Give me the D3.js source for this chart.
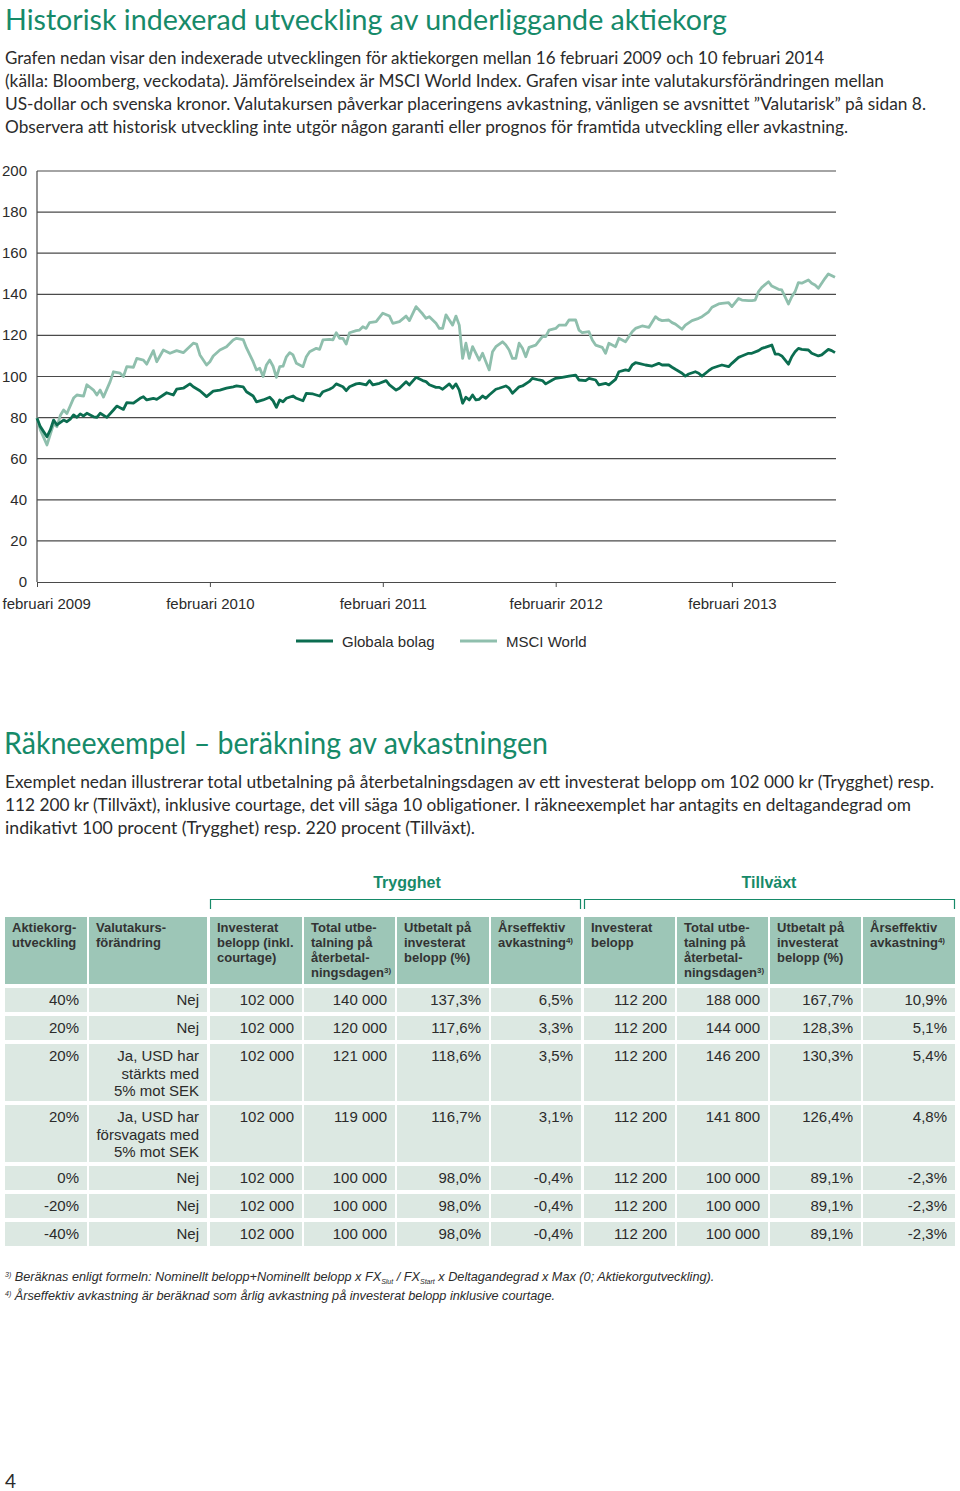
<!DOCTYPE html>
<html><head><meta charset="utf-8">
<script src="https://cdn.jsdelivr.net/npm/d3@7"></script>
<style>body{margin:0;background:#fff;} svg{display:block;}</style>
</head><body><svg id="c" width="960" height="1491"></svg>
<script>
// ---------- DATA ----------
// [week since 16 Feb 2009, index value]
const msciWorld = [[0,80],[1,74],[3,66.7],[5,77],[6,75.6],[7,81],[8,83.7],[9,82],[11,89.5],[12,91],[14,90.5],[15,96],[17,93.4],[18,91],[19,93.4],[20,90],[22,97.5],[23,102.3],[25,101.6],[26,100],[27,104.8],[29,104.5],[30,108.8],[32,108],[33,106],[35,112.6],[36,107.2],[38,112.9],[40,111.3],[42,112.6],[44,111.6],[47,116.2],[48,115.8],[49,110.5],[51,105.6],[52,107.2],[53,110],[55,112.9],[57,114.5],[59,117.8],[60,118.6],[62,118],[63,113.9],[65,107.2],[66,103.2],[67,104],[68,100],[69,105.6],[70,108],[71,105],[72,99.6],[73,104.8],[74,105],[75,109.6],[76,111.6],[77,110.5],[78,106.4],[80,104.8],[81,109.6],[82,112],[84,113.7],[85,113.2],[86,117.8],[88,118.1],[89,117.8],[90,121.3],[91,118.6],[92,118.6],[93,115.8],[94,121.3],[96,122.3],[97,122.6],[98,124.2],[99,123.4],[100,126.2],[102,126.7],[103,128.8],[104,130.8],[106,129.4],[107,125.9],[109,126.7],[111,129.4],[112,127.2],[114,134],[116,130.4],[117,128.3],[118,129.1],[120,125.9],[121,123.4],[122,123.4],[123,130],[124,127.5],[125,125],[126,129.4],[127,125],[128,108.8],[129,116.2],[130,108.8],[131,114.5],[132,111.3],[133,108],[134,111.3],[135,107.2],[136,103.2],[137,112],[138,114.5],[140,116.9],[141,115.3],[142,112.9],[143,108.8],[144,108.8],[145,116.2],[146,113.7],[147,109.6],[148,114.2],[150,115.3],[152,119.4],[153,119.4],[154,122.6],[156,123.4],[157,125],[159,125],[160,127.5],[162,127.5],[163,122.6],[164,121.3],[166,121.8],[167,117.8],[168,115.3],[170,114.2],[171,111.3],[172,116.2],[174,114.5],[175,118.6],[176,117.8],[177,116.9],[179,121.8],[180,123.4],[182,124.6],[184,123.9],[186,129.1],[187,127.8],[188,127.2],[190,127.5],[191,126.2],[192,125.5],[194,123],[195,125],[197,127.2],[199,128.3],[200,129.1],[202,131.5],[203,133.7],[205,135.3],[206,135.6],[208,135.9],[209,134],[211,138],[212,137.2],[214,136.9],[215,136.9],[216,137.2],[217,141.3],[218,143.4],[220,146.1],[221,144],[223,142.4],[224,142.1],[226,135.3],[227,138.8],[228,141.3],[229,145.7],[230,145.4],[232,147],[233,145.4],[234,144.5],[235,142.9],[237,147.8],[238,149.9],[240,148.3]];
const globalaBolag = [[0,79.7],[1,75.6],[3,70.7],[4,74],[5,78.8],[6,76.4],[8,78.8],[9,78],[10,79.2],[11,81.3],[12,80.1],[13,81.8],[14,80.8],[15,82.1],[17,80.4],[18,80.1],[19,82.1],[21,80.1],[23,83.7],[24,85.6],[26,84],[27,87.3],[29,87],[31,89.4],[32,90.2],[33,88.6],[35,89.4],[36,88.9],[38,91],[39,92.1],[41,91],[42,93.8],[44,94.3],[46,96.4],[47,95],[49,93.1],[51,90.2],[53,92.9],[55,93.4],[57,94.3],[59,95],[60,95.4],[62,95],[63,92.6],[65,90.5],[66,87.7],[68,88.6],[70,89.9],[71,88.2],[72,85],[73,88.6],[74,87.7],[75,89.4],[77,90.5],[78,89.4],[80,88.2],[81,91.8],[83,91.5],[85,90.5],[86,92.6],[88,93.8],[89,94.7],[90,96.4],[92,95],[93,93.1],[94,95],[96,96.4],[97,96.7],[99,95.9],[100,98],[101,95.9],[103,96.7],[105,98],[106,95.9],[108,93.4],[109,94.3],[111,97.5],[112,95.9],[114,99.6],[116,98],[117,97.5],[118,96],[120,94.7],[121,94.7],[122,93.8],[124,96.4],[125,94.3],[126,96.4],[127,93.4],[128,87],[129,89.9],[130,88.6],[131,91],[132,88.6],[133,88.9],[134,90.5],[135,89.4],[136,91],[138,93.8],[139,94.3],[141,95.4],[142,94.3],[143,91.8],[145,95],[146,95.4],[148,97.5],[149,99.1],[151,98.3],[152,98],[153,96.4],[155,98.3],[156,99.1],[158,99.6],[160,100.2],[162,100.7],[163,98.3],[165,98],[166,99.1],[168,98.3],[169,95.9],[171,96.7],[172,95.9],[174,98.6],[175,102.3],[177,103.2],[178,102.9],[179,105.6],[180,106.7],[181,106.4],[183,105.6],[185,105.1],[187,106.4],[188,105.6],[190,105.6],[191,104.5],[192,103.5],[194,101.6],[195,100.2],[196,101.2],[198,102.3],[199,101.6],[200,100.2],[202,102.8],[203,104],[205,105.1],[206,105.6],[208,104.8],[209,106.4],[211,109.3],[212,110],[214,111.3],[215,111.3],[217,112.6],[218,113.7],[219,114.2],[221,115.3],[222,110.9],[223,110.9],[224,110],[226,106],[227,109.6],[228,112],[229,113.7],[230,113.2],[232,112.9],[233,111.3],[235,110],[236,110.5],[238,113.2],[239,112.6],[240,111.6]];
const seriesNames = ["Globala bolag", "MSCI World"];
const yTicks = [0, 20, 40, 60, 80, 100, 120, 140, 160, 180, 200];
const xTickWeeks = [0, 52, 104, 156, 209];
const xTickLabels = ["februari 2009", "februari 2010", "februari 2011", "februarir 2012", "februari 2013"];

const title1 = "Historisk indexerad utveckling av underliggande aktiekorg";
const intro1 = [
  "Grafen nedan visar den indexerade utvecklingen för aktiekorgen mellan 16 februari 2009 och 10 februari 2014",
  "(källa: Bloomberg, veckodata). Jämförelseindex är MSCI World Index. Grafen visar inte valutakursförändringen mellan",
  "US-dollar och svenska kronor. Valutakursen påverkar placeringens avkastning, vänligen se avsnittet ”Valutarisk” på sidan 8.",
  "Observera att historisk utveckling inte utgör någon garanti eller prognos för framtida utveckling eller avkastning."
];
const title2 = "Räkneexempel – beräkning av avkastningen";
const intro2 = [
  "Exemplet nedan illustrerar total utbetalning på återbetalningsdagen av ett investerat belopp om 102 000 kr (Trygghet) resp.",
  "112 200 kr (Tillväxt), inklusive courtage, det vill säga 10 obligationer. I räkneexemplet har antagits en deltagandegrad om",
  "indikativt 100 procent (Trygghet) resp. 220 procent (Tillväxt)."
];

const groupNames = ["Trygghet", "Tillväxt"];
const headers = [
  [["Aktiekorg-", "utveckling"]],
  [["Valutakurs-", "förändring"]],
  [["Investerat", "belopp (inkl.", "courtage)"]],
  [["Total utbe-", "talning på", "återbetal-", "ningsdagen"], "3)"],
  [["Utbetalt på", "investerat", "belopp (%)"]],
  [["Årseffektiv", "avkastning"], "4)"],
  [["Investerat", "belopp"]],
  [["Total utbe-", "talning på", "återbetal-", "ningsdagen"], "3)"],
  [["Utbetalt på", "investerat", "belopp (%)"]],
  [["Årseffektiv", "avkastning"], "4)"]
];
const aktiekorg = ["40%", "20%", "20%", "20%", "0%", "-20%", "-40%"];
const valuta = [["Nej"], ["Nej"], ["Ja, USD har", "stärkts med", "5% mot SEK"], ["Ja, USD har", "försvagats med", "5% mot SEK"], ["Nej"], ["Nej"], ["Nej"]];
const tryggInvest = ["102 000", "102 000", "102 000", "102 000", "102 000", "102 000", "102 000"];
const tryggTotal = ["140 000", "120 000", "121 000", "119 000", "100 000", "100 000", "100 000"];
const tryggPct = ["137,3%", "117,6%", "118,6%", "116,7%", "98,0%", "98,0%", "98,0%"];
const tryggArs = ["6,5%", "3,3%", "3,5%", "3,1%", "-0,4%", "-0,4%", "-0,4%"];
const tillvInvest = ["112 200", "112 200", "112 200", "112 200", "112 200", "112 200", "112 200"];
const tillvTotal = ["188 000", "144 000", "146 200", "141 800", "100 000", "100 000", "100 000"];
const tillvPct = ["167,7%", "128,3%", "130,3%", "126,4%", "89,1%", "89,1%", "89,1%"];
const tillvArs = ["10,9%", "5,1%", "5,4%", "4,8%", "-2,3%", "-2,3%", "-2,3%"];

// ---------- STYLE ----------
const GREEN = "#168a69";
const DARK = "#0b6d50";
const LIGHT = "#8fbfad";
const TEXT = "#2b2b2b";
const BODY_FONT = "Lato, 'Open Sans', sans-serif";
const SANS = "'Liberation Sans', Arial, sans-serif";

const svg = d3.select("#c");

// ---------- HEADINGS ----------
svg.append("text").attr("x", 5).attr("y", 30)
  .attr("font-family", BODY_FONT).attr("font-size", 29).attr("fill", GREEN)
  .attr("textLength", 722).attr("lengthAdjust", "spacingAndGlyphs").text(title1);
const introW1 = [819, 879, 921, 843];
intro1.forEach((t, i) => svg.append("text").attr("x", 5).attr("y", 64 + i * 23)
  .attr("font-family", BODY_FONT).attr("font-size", 17).attr("fill", TEXT)
  .attr("textLength", introW1[i]).attr("lengthAdjust", "spacingAndGlyphs").text(t));

// ---------- CHART ----------
const x = d3.scaleLinear().domain([0, 240]).range([37, 835]);
const y = d3.scaleLinear().domain([0, 200]).range([582, 171]);

const grid = svg.append("g");
grid.selectAll("line").data(yTicks.filter(d => d > 0)).join("line")
  .attr("x1", 37).attr("x2", 836).attr("y1", d => y(d)).attr("y2", d => y(d))
  .attr("stroke", "#4a4a4a").attr("stroke-width", 1.2);
svg.append("line").attr("x1", 37).attr("x2", 37).attr("y1", y(200)).attr("y2", y(0))
  .attr("stroke", "#4a4a4a").attr("stroke-width", 1.2);
svg.append("g").selectAll("text").data(yTicks).join("text")
  .attr("x", 27).attr("y", d => y(d) + 5).attr("text-anchor", "end")
  .attr("font-family", SANS).attr("font-size", 15).attr("fill", TEXT).text(d => d);

const xAxis = svg.append("g").attr("transform", `translate(0,${y(0)})`)
  .call(d3.axisBottom(x).tickValues(xTickWeeks).tickSize(5).tickSizeOuter(0)
    .tickFormat((d, i) => xTickLabels[i]));
xAxis.select(".domain").attr("stroke", "#4a4a4a").attr("stroke-width", 1.2)
  .attr("d", `M37,0.5H836`);
xAxis.selectAll(".tick line").attr("stroke", "#4a4a4a");
xAxis.selectAll(".tick text").attr("font-family", SANS).attr("font-size", 15)
  .attr("fill", TEXT).attr("dy", 0).attr("y", 27);
xAxis.selectAll(".tick text").each(function () {
  const w = this.getComputedTextLength();
  const tx = x(d3.select(this.parentNode).datum());
  if (tx - w / 2 < 2) d3.select(this).attr("x", 2 + w / 2 - tx);
});

const line = d3.line().x(d => x(d[0])).y(d => y(d[1])).curve(d3.curveLinear);
svg.append("path").datum(msciWorld).attr("d", line).attr("fill", "none")
  .attr("stroke", LIGHT).attr("stroke-width", 2.8).attr("stroke-linejoin", "round");
svg.append("path").datum(globalaBolag).attr("d", line).attr("fill", "none")
  .attr("stroke", DARK).attr("stroke-width", 2.8).attr("stroke-linejoin", "round");

// legend
const legendX = [296, 460];
const legendColors = [DARK, LIGHT];
seriesNames.forEach((n, i) => {
  svg.append("line").attr("x1", legendX[i]).attr("x2", legendX[i] + 37)
    .attr("y1", 641).attr("y2", 641).attr("stroke", legendColors[i]).attr("stroke-width", 3);
  svg.append("text").attr("x", legendX[i] + 46).attr("y", 647)
    .attr("font-family", SANS).attr("font-size", 15).attr("fill", TEXT).text(n);
});

// ---------- SECTION 2 ----------
svg.append("text").attr("x", 4).attr("y", 754)
  .attr("font-family", BODY_FONT).attr("font-size", 31).attr("fill", GREEN)
  .attr("textLength", 544).attr("lengthAdjust", "spacingAndGlyphs").text(title2);
const introW2 = [929, 906, 470];
intro2.forEach((t, i) => svg.append("text").attr("x", 5).attr("y", 788 + i * 23)
  .attr("font-family", BODY_FONT).attr("font-size", 17).attr("fill", TEXT)
  .attr("textLength", introW2[i]).attr("lengthAdjust", "spacingAndGlyphs").text(t));

// ---------- TABLE ----------
const colX = [5, 89, 210, 304, 397, 491, 584, 677, 770, 863];
const colR = [87, 207, 302, 395, 489, 581, 675, 768, 861, 955];
const groupSpan = [[210, 581], [584, 955]];
const groupLabelX = [407, 769];
groupNames.forEach((g, i) => {
  const [a, b] = groupSpan[i];
  svg.append("text").attr("x", groupLabelX[i]).attr("y", 888).attr("text-anchor", "middle")
    .attr("font-family", SANS).attr("font-weight", "bold").attr("font-size", 16)
    .attr("fill", GREEN).text(g);
  svg.append("path").attr("d", `M${a + 0.5},909V899.5H${b - 0.5}V909`).attr("fill", "none")
    .attr("stroke", GREEN).attr("stroke-width", 1.2);
});

// header
headers.forEach((h, i) => {
  svg.append("rect").attr("x", colX[i]).attr("y", 917).attr("width", colR[i] - colX[i])
    .attr("height", 67).attr("fill", "#9dc6b7");
  const lines = h[0];
  lines.forEach((l, j) => {
    const t = svg.append("text").attr("x", colX[i] + 7).attr("y", 932 + j * 15)
      .attr("font-family", SANS).attr("font-weight", "bold").attr("font-size", 13)
      .attr("fill", "#333").text(l);
    if (h[1] && j === lines.length - 1) {
      t.append("tspan").attr("font-size", 8).attr("dy", -4).text(h[1]);
    }
  });
});

const tableCols = [aktiekorg, valuta, tryggInvest, tryggTotal, tryggPct, tryggArs, tillvInvest, tillvTotal, tillvPct, tillvArs];
const rowH = [24, 24, 57, 57, 24, 24, 24];
let rowTop = 988;
aktiekorg.forEach((_, r) => {
  tableCols.forEach((col, c) => {
    svg.append("rect").attr("x", colX[c]).attr("y", rowTop).attr("width", colR[c] - colX[c])
      .attr("height", rowH[r]).attr("fill", "#dce8e2");
    const v = col[r];
    const lines = Array.isArray(v) ? v : [v];
    lines.forEach((l, j) => svg.append("text").attr("x", colR[c] - 8).attr("y", rowTop + 17 + j * 17.5)
      .attr("text-anchor", "end").attr("font-family", SANS).attr("font-size", 15)
      .attr("fill", TEXT).text(l));
  });
  rowTop += rowH[r] + 4;
});

// footnotes
const fn1 = svg.append("text").attr("x", 5).attr("y", 1281).attr("font-family", SANS)
  .attr("font-style", "italic").attr("font-size", 12.7).attr("fill", TEXT);
fn1.append("tspan").attr("font-size", 7).attr("dy", -4).text("3)");
fn1.append("tspan").attr("dy", 4).text(" Beräknas enligt formeln: Nominellt belopp+Nominellt belopp x FX");
fn1.append("tspan").attr("font-size", 7).attr("dy", 3).text("Slut");
fn1.append("tspan").attr("dy", -3).text(" / FX");
fn1.append("tspan").attr("font-size", 7).attr("dy", 3).text("Start");
fn1.append("tspan").attr("dy", -3).text(" x Deltagandegrad x Max (0; Aktiekorgutveckling).");
const fn2 = svg.append("text").attr("x", 5).attr("y", 1300).attr("font-family", SANS)
  .attr("font-style", "italic").attr("font-size", 12.7).attr("fill", TEXT);
fn2.append("tspan").attr("font-size", 7).attr("dy", -4).text("4)");
fn2.append("tspan").attr("dy", 4).text(" Årseffektiv avkastning är beräknad som årlig avkastning på investerat belopp inklusive courtage.");

svg.append("text").attr("x", 5).attr("y", 1488).attr("font-family", BODY_FONT)
  .attr("font-size", 19).attr("fill", TEXT).text("4");
</script></body></html>
